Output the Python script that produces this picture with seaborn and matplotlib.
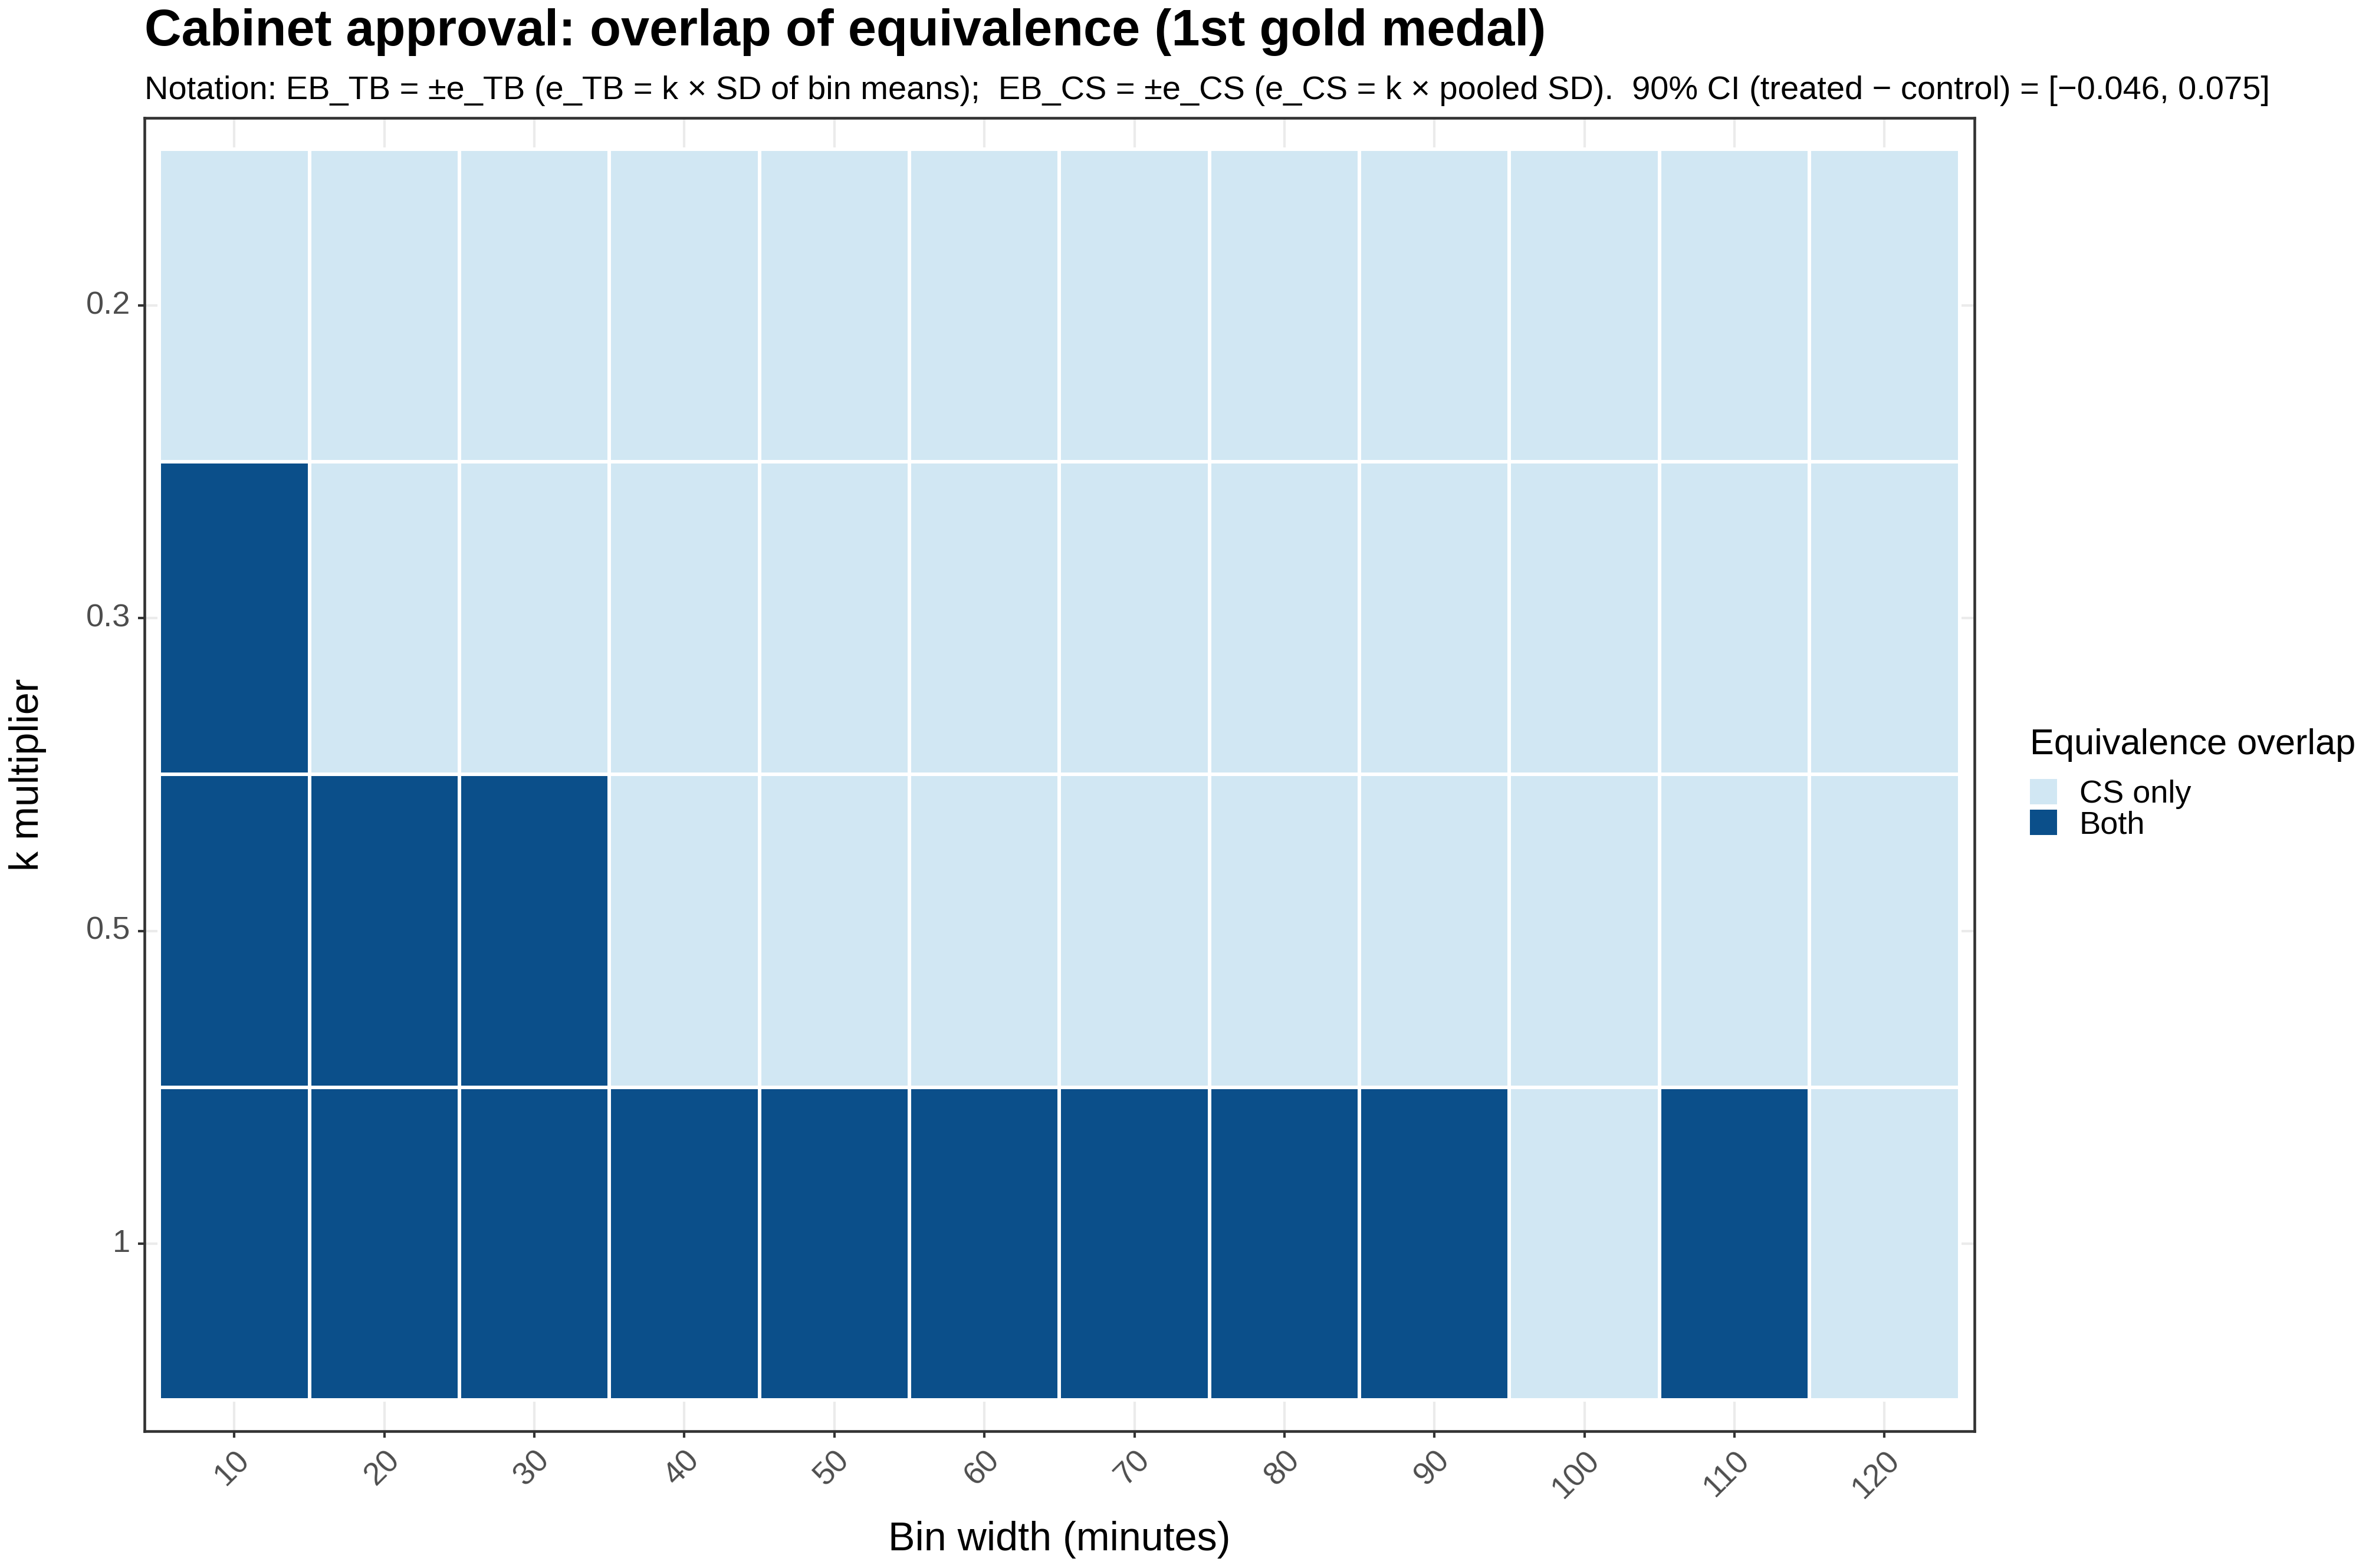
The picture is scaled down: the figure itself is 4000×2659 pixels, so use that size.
import numpy as np
import pandas as pd
import matplotlib
matplotlib.use("Agg")
import matplotlib.pyplot as plt
import seaborn as sns
from matplotlib.colors import ListedColormap
from matplotlib.patches import Patch

# Data
bin_widths = [10, 20, 30, 40, 50, 60, 70, 80, 90, 100, 110, 120]
k_levels = ["0.2", "0.3", "0.5", "1"]

overlap_k02 = ["CS only", "CS only", "CS only", "CS only", "CS only", "CS only",
               "CS only", "CS only", "CS only", "CS only", "CS only", "CS only"]
overlap_k03 = ["Both", "CS only", "CS only", "CS only", "CS only", "CS only",
               "CS only", "CS only", "CS only", "CS only", "CS only", "CS only"]
overlap_k05 = ["Both", "Both", "Both", "CS only", "CS only", "CS only",
               "CS only", "CS only", "CS only", "CS only", "CS only", "CS only"]
overlap_k1 = ["Both", "Both", "Both", "Both", "Both", "Both",
              "Both", "Both", "Both", "CS only", "Both", "CS only"]

categories = ["CS only", "Both"]
palette = ["#D1E7F3", "#0B4F8A"]

title = "Cabinet approval: overlap of equivalence (1st gold medal)"
subtitle = ("Notation: EB_TB = \u00b1e_TB (e_TB = k \u00d7 SD of bin means);  "
            "EB_CS = \u00b1e_CS (e_CS = k \u00d7 pooled SD).  "
            "90% CI (treated \u2212 control) = [\u22120.046, 0.075]")

# Long table -> wide grid
rows = []
for k, vals in zip(k_levels, [overlap_k02, overlap_k03, overlap_k05, overlap_k1]):
    for b, v in zip(bin_widths, vals):
        rows.append({"k": k, "bin": b, "overlap": v})
df = pd.DataFrame(rows)
df["code"] = df["overlap"].map({c: i for i, c in enumerate(categories)})
grid = df.pivot(index="k", columns="bin", values="code").loc[k_levels, bin_widths]

# Theme
sns.set_theme(style="white")
plt.rcParams["font.family"] = ["Liberation Sans", "DejaVu Sans"]
plt.rcParams["text.color"] = "black"

fig = plt.figure(figsize=(4000 / 300, 2659 / 300), dpi=300)
ax = fig.add_axes([0.0612, 0.0873, 0.837 - 0.0612, 0.9248 - 0.0873])

sns.heatmap(grid, ax=ax, cmap=ListedColormap(palette), vmin=-0.5, vmax=1.5,
            cbar=False, linewidths=1.0, linecolor="white", square=False)

# ggplot-like expansion around the tiles
ax.set_xlim(-0.1, len(bin_widths) + 0.1)
ax.set_ylim(len(k_levels) + 0.1, -0.1)

# Gridlines behind tiles
ax.set_axisbelow(True)
ax.grid(True, color="#EBEBEB", linewidth=1.0)

# Panel border
for spine in ax.spines.values():
    spine.set_visible(True)
    spine.set_color("#333333")
    spine.set_linewidth(1.1)

ax.tick_params(axis="both", which="major", length=2.75, width=1.0,
               color="#333333", labelcolor="#4D4D4D", labelsize=13,
               bottom=True, left=True, pad=3)
ax.set_xticklabels([str(b) for b in bin_widths])
ax.set_yticklabels(k_levels, rotation=0)
for lab in ax.get_xticklabels():
    lab.set_rotation(45)
    lab.set_ha("right")
    lab.set_va("top")
    lab.set_rotation_mode("anchor")

ax.set_xlabel("Bin width (minutes)", fontsize=16.4, color="black", labelpad=7)
ax.set_ylabel("k multiplier", fontsize=16.4, color="black", labelpad=16)

# Title and subtitle
fig.text(0.0612, 0.971, title, fontsize=20.8, fontweight="bold",
         color="black", ha="left", va="baseline")
fig.text(0.0612, 0.937, subtitle, fontsize=13.45, color="black",
         ha="left", va="baseline")

# Legend
handles = [Patch(facecolor=c, edgecolor="none", label=l)
           for c, l in zip(palette, categories)]
leg = fig.legend(handles=handles, title="Equivalence overlap",
                 loc="center left", bbox_to_anchor=(0.855, 0.5),
                 frameon=False, fontsize=13, title_fontsize=14.7,
                 handlelength=0.85, handleheight=0.85, handletextpad=0.7,
                 labelspacing=0.02, borderaxespad=0)
leg._legend_box.align = "left"
leg._legend_box.sep = 7

fig.savefig("out.png", dpi=300)
